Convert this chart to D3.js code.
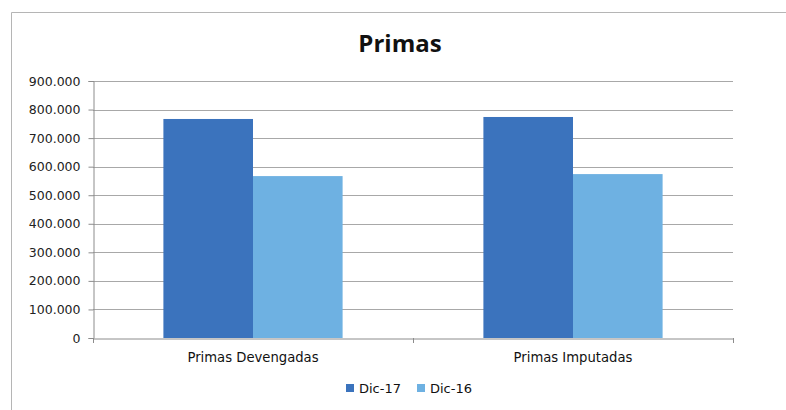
<!DOCTYPE html>
<html>
<head>
<meta charset="utf-8">
<script src="https://cdn.jsdelivr.net/npm/d3@7"></script>
<style>
  body { margin: 0; background: #fff; }
  svg { display: block; }
</style>
</head>
<body>
<svg id="chart" width="786" height="410"></svg>
<script>
// data
var categories = ["Primas Devengadas", "Primas Imputadas"]
var seriesNames = ["Dic-17", "Dic-16"]
var dic17 = [767000, 774000]
var dic16 = [567000, 574000]
var yTicks = [0, 100000, 200000, 300000, 400000, 500000, 600000, 700000, 800000, 900000]

var colors = ["#3b73bd", "#6eb1e2"]
var series = [dic17, dic16]

var svg = d3.select("#chart")
var margin = {left: 93, right: 53, top: 81, bottom: 72}
var W = 786, H = 410

// outer chart frame (only top and left edges visible in the scan)
svg.append("path")
    .attr("d", "M11.5,410 V12.5 H786")
    .attr("fill", "none")
    .attr("stroke", "#b5b5b5")

var x = d3.scaleBand()
    .domain(categories)
    .range([margin.left, W - margin.right])
    .paddingInner(0.44)
    .paddingOuter(0.22)

var x1 = d3.scaleBand()
    .domain(seriesNames)
    .range([0, x.bandwidth()])

var y = d3.scaleLinear()
    .domain([0, 900000])
    .range([H - margin.bottom, margin.top])

// gridlines
svg.append("g")
    .selectAll("line")
    .data(yTicks.slice(1))
    .enter().append("line")
    .attr("x1", margin.left)
    .attr("x2", W - margin.right)
    .attr("y1", function(d) { return Math.round(y(d)) + 0.5 })
    .attr("y2", function(d) { return Math.round(y(d)) + 0.5 })
    .attr("stroke", "#a8a8a8")
    .attr("stroke-width", 1)

// y axis, thousands with a dot
var yAxis = svg.append("g")
    .attr("transform", "translate(" + (margin.left + 0.5) + ",0)")
    .call(d3.axisLeft(y).tickValues(yTicks).tickSize(5).tickPadding(8)
        .tickFormat(function(d) { return d === 0 ? "0" : (d / 1000) + ".000" }))
yAxis.select(".domain").attr("stroke", "#8c8c8c")
yAxis.selectAll(".tick line").attr("stroke", "#8c8c8c")
yAxis.selectAll("text")
    .attr("fill", "#222")
    .style("font-family", "'DejaVu Sans', sans-serif")
    .style("font-size", "12.5px")

// bars
var groups = svg.append("g")
    .selectAll("g")
    .data(categories)
    .enter().append("g")
    .attr("transform", function(d) { return "translate(" + x(d) + ",0)" })

groups.selectAll("rect")
    .data(function(d, i) {
        return seriesNames.map(function(s, j) { return {s: s, v: series[j][i], c: colors[j]} })
    })
    .enter().append("rect")
    .attr("x", function(d) { return x1(d.s) })
    .attr("width", x1.bandwidth())
    .attr("y", function(d) { return y(d.v) })
    .attr("height", function(d) { return y(0) - y(d.v) })
    .attr("fill", function(d) { return d.c })

// x axis
var xAxis = svg.append("g")
    .attr("transform", "translate(0," + (y(0) + 0.5) + ")")
    .call(d3.axisBottom(x).tickSize(0).tickPadding(14))
xAxis.select(".domain").attr("stroke", "#8c8c8c")
xAxis.selectAll("text")
    .attr("fill", "#111")
    .style("font-family", "'DejaVu Sans', sans-serif")
    .style("font-size", "13.2px")

// category separators
var edges = [margin.left, (margin.left + W - margin.right) / 2, W - margin.right]
svg.append("g").selectAll("line")
    .data(edges)
    .enter().append("line")
    .attr("x1", function(d) { return d + 0.5 })
    .attr("x2", function(d) { return d + 0.5 })
    .attr("y1", y(0))
    .attr("y2", y(0) + 5)
    .attr("stroke", "#8c8c8c")

// title
svg.append("text")
    .attr("x", 400)
    .attr("y", 52)
    .attr("text-anchor", "middle")
    .style("font-family", "'Open Sans', sans-serif")
    .style("font-weight", "bold")
    .style("font-size", "24px")
    .attr("fill", "#111")
    .text("Primas")

// legend
var legend = svg.append("g").attr("transform", "translate(346,393)")
var items = legend.selectAll("g")
    .data(seriesNames)
    .enter().append("g")
    .attr("transform", function(d, i) { return "translate(" + (i * 71) + ",0)" })
items.append("rect")
    .attr("x", 0).attr("y", -9)
    .attr("width", 8).attr("height", 8)
    .attr("fill", function(d, i) { return colors[i] })
items.append("text")
    .attr("x", 13).attr("y", 0)
    .attr("fill", "#111")
    .style("font-family", "'DejaVu Sans', sans-serif")
    .style("font-size", "13px")
    .text(function(d) { return d })
</script>
</body>
</html>
